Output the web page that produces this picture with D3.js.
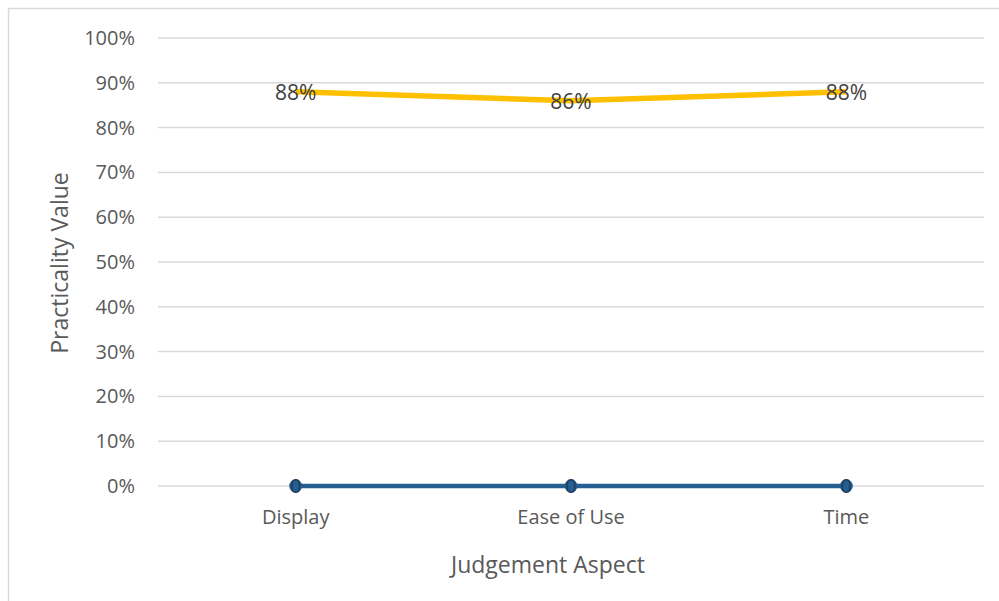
<!DOCTYPE html>
<html>
<head>
<meta charset="utf-8">
<script src="https://cdn.jsdelivr.net/npm/d3@7"></script>
<style>
  body { margin: 0; background: #fff; }
  text { font-family: "Open Sans", "Noto Sans", sans-serif; fill: #595959; }
</style>
</head>
<body>
<div id="chart"></div>
<script>
var categories = ["Display", "Ease of Use", "Time"];
var baseValues = [0, 0, 0];
var practicality = [0.88, 0.86, 0.88];
var yTicks = [0, 0.1, 0.2, 0.3, 0.4, 0.5, 0.6, 0.7, 0.8, 0.9, 1.0];

var width = 999, height = 601;
var margin = { left: 158, right: 15, top: 38, bottom: 115 };

var svg = d3.select('#chart').append('svg')
    .attr('width', width)
    .attr('height', height);

// chart area border
svg.append('rect')
    .attr('x', 8.5).attr('y', 8.5)
    .attr('width', width).attr('height', height)
    .attr('fill', 'none')
    .attr('stroke', '#d9d9d9')
    .attr('stroke-width', 1.5);

var x = d3.scaleBand().domain(categories).range([margin.left, width - margin.right]);
var y = d3.scaleLinear().domain([0, 1]).range([height - margin.bottom, margin.top]);

// gridlines
svg.append('g')
    .selectAll('line')
    .data(yTicks)
    .join('line')
    .attr('x1', margin.left).attr('x2', width - margin.right)
    .attr('y1', function (d) { return y(d); })
    .attr('y2', function (d) { return y(d); })
    .attr('stroke', '#d9d9d9')
    .attr('stroke-width', 1.5);

// y axis labels
var yAxis = d3.axisLeft(y).tickValues(yTicks).tickFormat(d3.format('.0%')).tickSize(0).tickPadding(23);
var gy = svg.append('g').attr('transform', 'translate(' + margin.left + ',0)').call(yAxis);
gy.select('.domain').remove();
gy.selectAll('text').style('font-size', '20px').attr('fill', '#595959');

// x axis labels
var xAxis = d3.axisBottom(x).tickSize(0).tickPadding(24);
var gx = svg.append('g').attr('transform', 'translate(0,' + (height - margin.bottom) + ')').call(xAxis);
gx.select('.domain').remove();
gx.selectAll('text').style('font-size', '20px').attr('fill', '#595959');

// axis titles
svg.append('text')
    .attr('x', 548)
    .attr('y', 573)
    .attr('text-anchor', 'middle')
    .style('font-size', '23px')
    .text('Judgement Aspect');

svg.append('text')
    .attr('transform', 'rotate(-90)')
    .attr('x', -263)
    .attr('y', 68)
    .attr('text-anchor', 'middle')
    .style('font-size', '23px')
    .text('Practicality Value');

var cx = function (d, i) { return x(categories[i]) + x.bandwidth() / 2; };

// blue base series
var base = categories.map(function (c, i) { return { c: c, v: baseValues[i] }; });
var line = d3.line().x(function (d) { return x(d.c) + x.bandwidth() / 2; }).y(function (d) { return y(d.v); });

svg.append('path')
    .attr('d', line(base))
    .attr('fill', 'none')
    .attr('stroke', '#255e91')
    .attr('stroke-width', 4.5);

svg.append('g').selectAll('circle')
    .data(base)
    .join('circle')
    .attr('cx', cx)
    .attr('cy', function (d) { return y(d.v); })
    .attr('r', 6.5)
    .attr('fill', '#255e91');

svg.append('g').selectAll('text')
    .data(base)
    .join('text')
    .attr('x', cx)
    .attr('y', function (d) { return y(d.v) + 7; })
    .attr('text-anchor', 'middle')
    .style('font-size', '20px')
    .style('fill', '#1f3f5f')
    .text(function (d) { return d3.format('d')(d.v); });

// yellow practicality series
var prac = categories.map(function (c, i) { return { c: c, v: practicality[i] }; });

svg.append('path')
    .attr('d', line(prac))
    .attr('fill', 'none')
    .attr('stroke', '#ffc000')
    .attr('stroke-width', 5.5)
    .attr('stroke-linejoin', 'round');

svg.append('g').selectAll('text')
    .data(prac)
    .join('text')
    .attr('x', cx)
    .attr('y', function (d) { return y(d.v) + 8; })
    .attr('text-anchor', 'middle')
    .style('font-size', '21px')
    .style('fill', '#404040')
    .text(function (d) { return d3.format('.0%')(d.v); });
</script>
</body>
</html>
